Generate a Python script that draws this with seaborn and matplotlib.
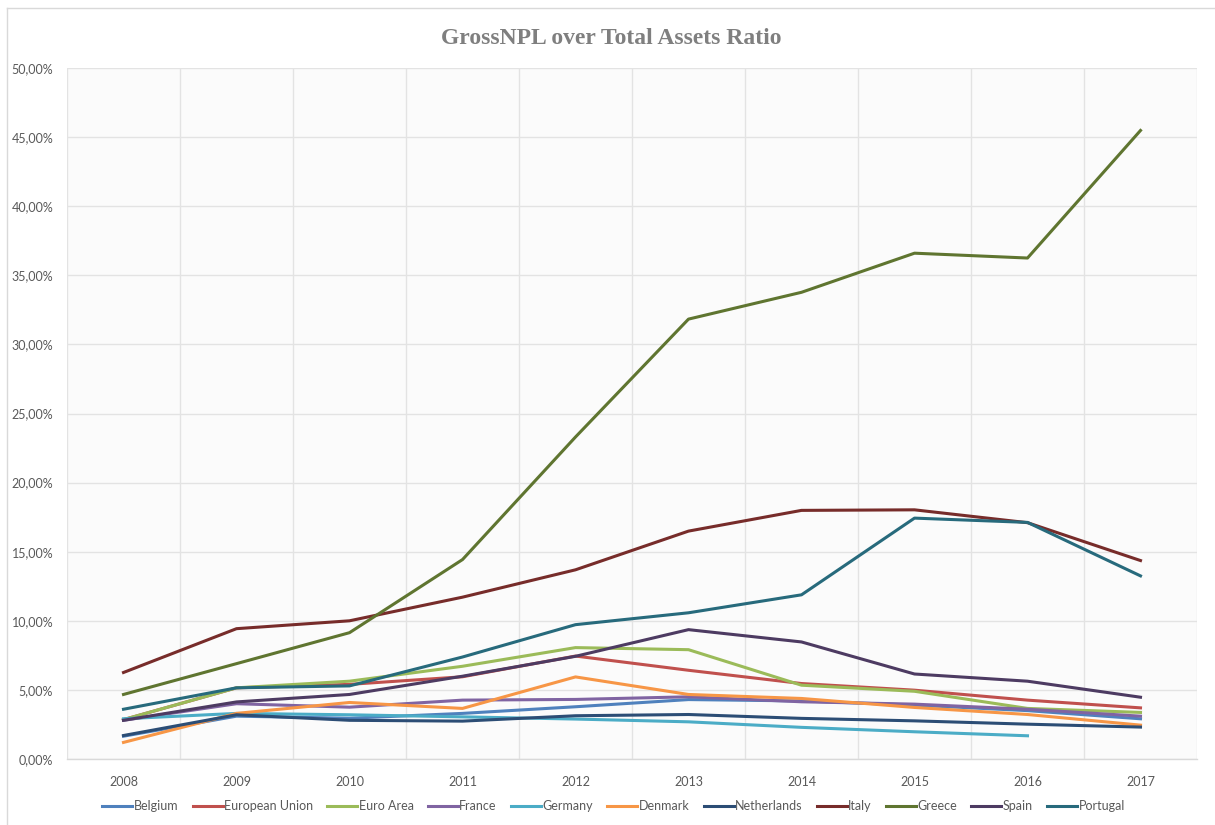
import numpy as np
import pandas as pd
import seaborn as sns
import matplotlib.pyplot as plt
from matplotlib.ticker import FuncFormatter, MultipleLocator
from matplotlib.lines import Line2D

# ---------------------------------------------------------------
# data (values in %)
years = [2008, 2009, 2010, 2011, 2012, 2013, 2014, 2015, 2016, 2017]

belgium     = [1.65, 3.10, 2.95, 3.30, 3.78, 4.30, 4.20, 3.90, 3.50, 2.91]
eu          = [2.85, 5.15, 5.40, 5.95, 7.45, 6.42, 5.46, 4.98, 4.26, 3.70]
euro_area   = [2.85, 5.15, 5.63, 6.71, 8.06, 7.91, 5.34, 4.90, 3.66, 3.37]
france      = [2.80, 4.00, 3.75, 4.26, 4.31, 4.50, 4.14, 3.97, 3.60, 3.10]
germany     = [2.91, 3.30, 3.20, 3.05, 2.89, 2.69, 2.29, 1.97, 1.68, np.nan]
denmark     = [1.20, 3.30, 4.09, 3.66, 5.94, 4.67, 4.38, 3.73, 3.22, 2.45]
netherlands = [1.70, 3.20, 2.80, 2.74, 3.13, 3.22, 2.94, 2.76, 2.52, 2.31]
italy       = [6.26, 9.43, 10.00, 11.71, 13.69, 16.49, 17.99, 18.03, 17.10, 14.36]
greece      = [4.67, 6.90, 9.14, 14.43, 23.30, 31.83, 33.77, 36.60, 36.25, 45.48]
spain       = [2.80, 4.13, 4.67, 5.99, 7.43, 9.36, 8.47, 6.15, 5.63, 4.47]
portugal    = [3.60, 5.15, 5.29, 7.38, 9.72, 10.58, 11.88, 17.43, 17.12, 13.25]

countries = ['Belgium', 'European Union', 'Euro Area', 'France', 'Germany',
             'Denmark', 'Netherlands', 'Italy', 'Greece', 'Spain', 'Portugal']
series = [belgium, eu, euro_area, france, germany, denmark,
          netherlands, italy, greece, spain, portugal]
colors = ['#4F81BD', '#C0504D', '#9BBB59', '#8064A2', '#4BACC6', '#F79646',
          '#2C4D75', '#772C2A', '#5F7530', '#4D3B62', '#276A7C']

df = pd.DataFrame({
    'year': np.tile(years, len(countries)),
    'country': np.repeat(countries, len(years)),
    'ratio': np.concatenate(series),
})
palette = dict(zip(countries, colors))

# ---------------------------------------------------------------
plt.rcParams['font.family'] = ['Lato', 'DejaVu Sans']
plt.rcParams['hatch.color'] = '#d6d6d6'
plt.rcParams['hatch.linewidth'] = 0.5

fig = plt.figure(figsize=(12.15, 8.25), dpi=100)
ax = fig.add_axes([67 / 1215, 1 - 759 / 825, (1197 - 67) / 1215, (759 - 68) / 825])
ax.patch.set_facecolor('#fbfbfb')
ax.patch.set_hatch('\\\\\\\\')

sns.lineplot(data=df, x='year', y='ratio', hue='country', hue_order=countries,
             palette=palette, linewidth=2.2, ax=ax, legend=False, sort=False)

ax.set_xlim(2007.5, 2017.5)
ax.set_ylim(0, 50)
ax.set_xticks(years)
ax.xaxis.set_minor_locator(MultipleLocator(1, offset=0.5))
ax.yaxis.set_major_locator(MultipleLocator(5))
ax.yaxis.set_major_formatter(FuncFormatter(lambda v, p: f"{v:.2f}%".replace('.', ',')))

ax.grid(True, axis='y', which='major', color='#e3e3e3', linewidth=1)
ax.grid(True, axis='x', which='minor', color='#e3e3e3', linewidth=1)
ax.grid(False, axis='x', which='major')
ax.set_axisbelow(True)

for s in ['top', 'right', 'left']:
    ax.spines[s].set_visible(False)
ax.spines['bottom'].set_color('#d9d9d9')
ax.spines['bottom'].set_linewidth(1)

ax.tick_params(axis='both', which='both', length=0, labelsize=9, labelcolor='#595959')
ax.tick_params(axis='x', pad=12)
ax.tick_params(axis='y', pad=10)
ax.set_xlabel('')
ax.set_ylabel('')

fig.text(0.503, 1 - 38 / 825, 'GrossNPL over Total Assets Ratio',
         ha='center', va='center', fontsize=17, fontweight='bold',
         color='#7f7f7f', family='Liberation Serif')

handles = [Line2D([0], [0], color=c, lw=2.2) for c in colors]
fig.legend(handles, countries, loc='center', bbox_to_anchor=(0.505, 1 - 806 / 825),
           ncol=len(countries), frameon=False, fontsize=9, handlelength=2.4,
           handletextpad=0.1, columnspacing=1.15, labelcolor='#595959')

# chart border (partly visible at left/top)
fig.add_artist(Line2D([7 / 1215, 7 / 1215], [0, 1 - 8 / 825], color='#d9d9d9', lw=1))
fig.add_artist(Line2D([7 / 1215, 1], [1 - 8 / 825, 1 - 8 / 825], color='#d9d9d9', lw=1))

fig.savefig('out.png', dpi=100)
